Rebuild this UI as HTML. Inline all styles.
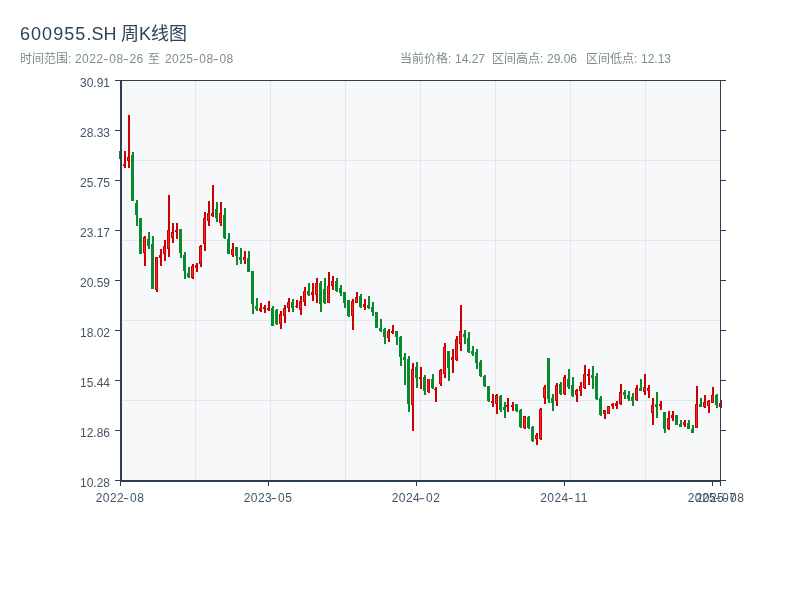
<!DOCTYPE html>
<html lang="zh-CN">
<head>
<meta charset="utf-8">
<title>600955.SH 周K线图</title>
<style>
html,body{margin:0;padding:0;background:#fff;}
body{-webkit-font-smoothing:antialiased;width:800px;height:600px;position:relative;overflow:hidden;font-family:"Liberation Sans","Noto Sans CJK SC",sans-serif;}
.t{position:absolute;white-space:nowrap;line-height:1;will-change:transform;}
.title{font-size:18px;color:#2f4256;}
.sub{font-size:12px;color:#7f8c8d;}
.num{letter-spacing:0.45px;}
.hy{display:inline-block;margin:0 1.2px 0 0.2px;transform:scaleX(1.4);}
.yl{will-change:transform;position:absolute;right:690px;font-size:12px;line-height:12px;color:#435466;white-space:nowrap;}
.xl{will-change:transform;position:absolute;top:492px;width:100px;text-align:center;font-size:12px;line-height:12px;color:#435466;letter-spacing:0.45px;white-space:nowrap;}
svg{position:absolute;left:0;top:0;}
</style>
</head>
<body>
<svg width="800" height="600" viewBox="0 0 800 600" shape-rendering="crispEdges">
<rect x="122" y="81" width="598" height="399" fill="#f7f8fa"/>
<path d="M195.5 81V480 M270.5 81V480 M345.5 81V480 M420.5 81V480 M495.5 81V480 M570.5 81V480 M645.5 81V480 M122 160.5H720 M122 240.5H720 M122 320.5H720 M122 400.5H720" stroke="#e3e7ec" stroke-width="1" fill="none"/>
<g fill="#0a8a2e"><rect x="120" y="151.00" width="2" height="8.00"/><rect x="132" y="152.00" width="2" height="48.60"/><rect x="136" y="200.00" width="2" height="25.60"/><rect x="140" y="218.00" width="2" height="35.75"/><rect x="148" y="232.00" width="2" height="16.75"/><rect x="152" y="235.60" width="2" height="53.80"/><rect x="180" y="229.40" width="2" height="28.10"/><rect x="184" y="251.90" width="2" height="26.85"/><rect x="188" y="266.90" width="2" height="10.60"/><rect x="216" y="201.90" width="2" height="20.00"/><rect x="224" y="208.00" width="2" height="30.75"/><rect x="228" y="233.00" width="2" height="21.40"/><rect x="236" y="246.90" width="2" height="18.10"/><rect x="240" y="248.00" width="2" height="15.75"/><rect x="248" y="250.60" width="2" height="21.30"/><rect x="252" y="271.25" width="2" height="42.50"/><rect x="256" y="298.10" width="2" height="12.50"/><rect x="272" y="306.25" width="2" height="19.35"/><rect x="276" y="309.00" width="2" height="15.75"/><rect x="292" y="299.00" width="2" height="12.60"/><rect x="308" y="283.25" width="2" height="12.25"/><rect x="320" y="281.00" width="2" height="30.75"/><rect x="324" y="278.00" width="2" height="25.90"/><rect x="336" y="278.00" width="2" height="13.75"/><rect x="340" y="285.10" width="2" height="10.65"/><rect x="344" y="292.00" width="2" height="15.60"/><rect x="348" y="300.10" width="2" height="16.65"/><rect x="360" y="294.25" width="2" height="13.35"/><rect x="368" y="296.00" width="2" height="12.50"/><rect x="372" y="302.00" width="2" height="13.50"/><rect x="376" y="312.00" width="2" height="15.60"/><rect x="380" y="319.00" width="2" height="12.60"/><rect x="384" y="328.10" width="2" height="15.65"/><rect x="396" y="331.00" width="2" height="13.75"/><rect x="400" y="336.00" width="2" height="29.60"/><rect x="404" y="353.00" width="2" height="31.60"/><rect x="408" y="356.00" width="2" height="55.90"/><rect x="416" y="361.90" width="2" height="25.60"/><rect x="424" y="375.00" width="2" height="20.00"/><rect x="432" y="374.00" width="2" height="14.75"/><rect x="448" y="351.00" width="2" height="29.60"/><rect x="464" y="330.00" width="2" height="13.75"/><rect x="468" y="332.10" width="2" height="20.40"/><rect x="472" y="346.25" width="2" height="9.35"/><rect x="476" y="349.00" width="2" height="19.50"/><rect x="480" y="360.00" width="2" height="16.90"/><rect x="484" y="375.00" width="2" height="11.90"/><rect x="488" y="386.00" width="2" height="15.90"/><rect x="500" y="395.00" width="2" height="16.90"/><rect x="504" y="402.00" width="2" height="15.75"/><rect x="516" y="404.00" width="2" height="7.90"/><rect x="520" y="409.00" width="2" height="18.70"/><rect x="528" y="416.25" width="2" height="12.55"/><rect x="532" y="426.20" width="2" height="15.60"/><rect x="548" y="358.10" width="2" height="44.40"/><rect x="552" y="394.00" width="2" height="16.60"/><rect x="560" y="381.90" width="2" height="12.85"/><rect x="568" y="369.00" width="2" height="19.75"/><rect x="572" y="376.90" width="2" height="20.00"/><rect x="592" y="366.00" width="2" height="22.75"/><rect x="596" y="373.10" width="2" height="26.65"/><rect x="600" y="396.00" width="2" height="19.60"/><rect x="624" y="390.25" width="2" height="8.25"/><rect x="628" y="391.25" width="2" height="9.35"/><rect x="632" y="393.10" width="2" height="12.50"/><rect x="640" y="379.00" width="2" height="11.60"/><rect x="656" y="391.90" width="2" height="25.85"/><rect x="664" y="412.25" width="2" height="20.50"/><rect x="676" y="415.00" width="2" height="9.75"/><rect x="680" y="420.00" width="2" height="6.50"/><rect x="688" y="420.00" width="2" height="8.75"/><rect x="692" y="425.00" width="2" height="7.75"/><rect x="700" y="398.10" width="2" height="8.40"/><rect x="716" y="394.00" width="2" height="13.50"/><rect x="119" y="151.00" width="3" height="7.75"/><rect x="131" y="155.00" width="3" height="45.50"/><rect x="135" y="203.00" width="3" height="11.50"/><rect x="139" y="218.00" width="3" height="35.50"/><rect x="147" y="239.00" width="3" height="7.00"/><rect x="151" y="244.40" width="3" height="44.35"/><rect x="179" y="229.40" width="3" height="23.10"/><rect x="183" y="255.00" width="3" height="16.25"/><rect x="187" y="273.00" width="3" height="4.00"/><rect x="215" y="209.40" width="3" height="8.10"/><rect x="223" y="215.00" width="3" height="22.50"/><rect x="227" y="238.75" width="3" height="15.00"/><rect x="235" y="246.90" width="3" height="8.70"/><rect x="239" y="257.00" width="3" height="3.00"/><rect x="247" y="257.50" width="3" height="14.40"/><rect x="251" y="271.25" width="3" height="33.15"/><rect x="255" y="305.60" width="3" height="3.80"/><rect x="271" y="308.00" width="3" height="17.60"/><rect x="275" y="310.00" width="3" height="14.40"/><rect x="291" y="302.00" width="3" height="6.25"/><rect x="307" y="290.75" width="3" height="4.00"/><rect x="319" y="283.25" width="3" height="20.65"/><rect x="323" y="288.90" width="3" height="14.35"/><rect x="335" y="280.75" width="3" height="10.65"/><rect x="339" y="288.25" width="3" height="4.35"/><rect x="343" y="292.00" width="3" height="10.60"/><rect x="347" y="300.10" width="3" height="15.65"/><rect x="359" y="295.75" width="3" height="11.00"/><rect x="367" y="304.50" width="3" height="3.10"/><rect x="371" y="307.00" width="3" height="5.00"/><rect x="375" y="312.00" width="3" height="15.50"/><rect x="379" y="328.25" width="3" height="2.75"/><rect x="383" y="328.75" width="3" height="8.15"/><rect x="395" y="331.25" width="3" height="5.65"/><rect x="399" y="336.90" width="3" height="20.00"/><rect x="403" y="357.00" width="3" height="2.60"/><rect x="407" y="359.40" width="3" height="44.35"/><rect x="415" y="366.90" width="3" height="10.60"/><rect x="423" y="376.90" width="3" height="13.70"/><rect x="431" y="379.40" width="3" height="8.70"/><rect x="447" y="351.00" width="3" height="16.50"/><rect x="463" y="334.40" width="3" height="2.50"/><rect x="467" y="338.10" width="3" height="13.80"/><rect x="471" y="350.60" width="3" height="2.90"/><rect x="475" y="351.90" width="3" height="10.60"/><rect x="479" y="361.90" width="3" height="14.35"/><rect x="483" y="375.60" width="3" height="10.65"/><rect x="487" y="386.00" width="3" height="15.25"/><rect x="499" y="395.60" width="3" height="14.40"/><rect x="503" y="407.00" width="3" height="2.50"/><rect x="515" y="404.40" width="3" height="6.85"/><rect x="519" y="409.50" width="3" height="17.50"/><rect x="527" y="416.50" width="3" height="11.60"/><rect x="531" y="427.00" width="3" height="14.00"/><rect x="547" y="358.10" width="3" height="40.65"/><rect x="551" y="397.50" width="3" height="5.50"/><rect x="559" y="383.75" width="3" height="10.65"/><rect x="567" y="379.40" width="3" height="7.50"/><rect x="571" y="385.00" width="3" height="11.25"/><rect x="591" y="375.00" width="3" height="2.50"/><rect x="595" y="376.25" width="3" height="23.15"/><rect x="599" y="397.50" width="3" height="17.50"/><rect x="623" y="391.90" width="3" height="3.10"/><rect x="627" y="395.00" width="3" height="4.40"/><rect x="631" y="396.90" width="3" height="4.35"/><rect x="639" y="388.10" width="3" height="2.50"/><rect x="655" y="404.40" width="3" height="2.50"/><rect x="663" y="412.25" width="3" height="17.15"/><rect x="675" y="415.00" width="3" height="9.75"/><rect x="679" y="423.75" width="3" height="2.75"/><rect x="687" y="423.00" width="3" height="5.75"/><rect x="691" y="428.75" width="3" height="3.75"/><rect x="699" y="404.00" width="3" height="2.50"/><rect x="715" y="395.00" width="3" height="9.50"/></g>
<g fill="#cc0000"><rect x="124" y="151.25" width="2" height="16.25"/><rect x="128" y="115.00" width="2" height="52.50"/><rect x="144" y="236.25" width="2" height="29.35"/><rect x="156" y="256.90" width="2" height="35.00"/><rect x="160" y="248.75" width="2" height="16.85"/><rect x="164" y="240.00" width="2" height="20.60"/><rect x="168" y="195.00" width="2" height="61.90"/><rect x="172" y="223.00" width="2" height="19.50"/><rect x="176" y="223.00" width="2" height="15.75"/><rect x="192" y="264.40" width="2" height="14.35"/><rect x="196" y="263.00" width="2" height="8.50"/><rect x="200" y="245.00" width="2" height="21.90"/><rect x="204" y="211.90" width="2" height="38.70"/><rect x="208" y="201.25" width="2" height="24.35"/><rect x="212" y="185.00" width="2" height="31.90"/><rect x="220" y="201.90" width="2" height="23.70"/><rect x="232" y="243.10" width="2" height="13.80"/><rect x="244" y="250.60" width="2" height="13.15"/><rect x="260" y="303.10" width="2" height="8.80"/><rect x="264" y="305.00" width="2" height="8.10"/><rect x="268" y="301.25" width="2" height="9.35"/><rect x="280" y="311.00" width="2" height="17.75"/><rect x="284" y="305.00" width="2" height="17.75"/><rect x="288" y="298.10" width="2" height="13.80"/><rect x="296" y="300.10" width="2" height="7.50"/><rect x="300" y="296.00" width="2" height="18.50"/><rect x="304" y="287.00" width="2" height="18.75"/><rect x="312" y="283.25" width="2" height="17.50"/><rect x="316" y="278.00" width="2" height="24.60"/><rect x="328" y="272.00" width="2" height="31.00"/><rect x="332" y="276.00" width="2" height="13.75"/><rect x="352" y="299.25" width="2" height="30.50"/><rect x="356" y="292.00" width="2" height="11.25"/><rect x="364" y="299.25" width="2" height="10.25"/><rect x="388" y="329.00" width="2" height="12.90"/><rect x="392" y="325.00" width="2" height="8.75"/><rect x="412" y="363.10" width="2" height="67.50"/><rect x="420" y="366.90" width="2" height="21.85"/><rect x="428" y="379.00" width="2" height="13.75"/><rect x="435" y="386.90" width="2" height="15.00"/><rect x="440" y="369.40" width="2" height="16.20"/><rect x="444" y="343.10" width="2" height="34.40"/><rect x="452" y="349.00" width="2" height="23.50"/><rect x="456" y="336.00" width="2" height="24.60"/><rect x="460" y="305.00" width="2" height="45.60"/><rect x="492" y="394.00" width="2" height="12.90"/><rect x="496" y="394.00" width="2" height="19.75"/><rect x="507" y="398.00" width="2" height="13.90"/><rect x="512" y="402.25" width="2" height="8.45"/><rect x="524" y="416.25" width="2" height="12.55"/><rect x="536" y="433.00" width="2" height="11.80"/><rect x="540" y="408.00" width="2" height="31.80"/><rect x="544" y="385.00" width="2" height="18.75"/><rect x="556" y="383.10" width="2" height="22.50"/><rect x="564" y="375.00" width="2" height="19.75"/><rect x="576" y="388.75" width="2" height="13.15"/><rect x="580" y="381.90" width="2" height="13.70"/><rect x="584" y="365.00" width="2" height="23.75"/><rect x="588" y="369.00" width="2" height="15.75"/><rect x="604" y="410.00" width="2" height="8.75"/><rect x="608" y="406.00" width="2" height="7.75"/><rect x="612" y="403.10" width="2" height="5.65"/><rect x="616" y="401.25" width="2" height="7.50"/><rect x="620" y="384.00" width="2" height="20.75"/><rect x="636" y="385.00" width="2" height="15.60"/><rect x="644" y="374.00" width="2" height="20.75"/><rect x="648" y="385.00" width="2" height="12.75"/><rect x="652" y="398.10" width="2" height="26.65"/><rect x="660" y="401.00" width="2" height="8.75"/><rect x="668" y="411.25" width="2" height="18.50"/><rect x="672" y="411.25" width="2" height="9.35"/><rect x="684" y="420.00" width="2" height="6.50"/><rect x="696" y="386.25" width="2" height="41.25"/><rect x="704" y="395.00" width="2" height="12.50"/><rect x="708" y="400.00" width="2" height="12.50"/><rect x="712" y="387.25" width="2" height="15.00"/><rect x="720" y="400.00" width="2" height="7.50"/><rect x="123" y="164.00" width="3" height="2.00"/><rect x="127" y="157.00" width="3" height="3.50"/><rect x="143" y="237.00" width="3" height="15.50"/><rect x="155" y="257.00" width="3" height="33.00"/><rect x="159" y="255.00" width="3" height="2.50"/><rect x="163" y="246.25" width="3" height="8.15"/><rect x="167" y="229.90" width="3" height="18.70"/><rect x="171" y="232.00" width="3" height="5.50"/><rect x="175" y="230.00" width="3" height="2.00"/><rect x="191" y="265.60" width="3" height="12.40"/><rect x="195" y="265.00" width="3" height="2.50"/><rect x="199" y="245.60" width="3" height="17.90"/><rect x="203" y="218.00" width="3" height="25.50"/><rect x="207" y="213.00" width="3" height="7.60"/><rect x="211" y="213.00" width="3" height="3.25"/><rect x="219" y="213.00" width="3" height="9.50"/><rect x="231" y="248.75" width="3" height="6.25"/><rect x="243" y="256.90" width="3" height="3.10"/><rect x="259" y="308.00" width="3" height="2.60"/><rect x="263" y="306.90" width="3" height="2.50"/><rect x="267" y="308.00" width="3" height="2.00"/><rect x="279" y="313.75" width="3" height="10.00"/><rect x="283" y="308.00" width="3" height="7.60"/><rect x="287" y="302.00" width="3" height="6.25"/><rect x="295" y="305.75" width="3" height="1.25"/><rect x="299" y="301.40" width="3" height="8.60"/><rect x="303" y="290.75" width="3" height="11.25"/><rect x="311" y="292.00" width="3" height="2.50"/><rect x="315" y="283.25" width="3" height="11.75"/><rect x="327" y="286.40" width="3" height="16.20"/><rect x="331" y="280.75" width="3" height="5.65"/><rect x="351" y="300.75" width="3" height="15.00"/><rect x="355" y="297.00" width="3" height="5.60"/><rect x="363" y="304.25" width="3" height="2.75"/><rect x="387" y="331.25" width="3" height="6.85"/><rect x="391" y="331.25" width="3" height="1.85"/><rect x="411" y="369.40" width="3" height="35.80"/><rect x="419" y="376.90" width="3" height="1.85"/><rect x="427" y="379.40" width="3" height="12.50"/><rect x="434" y="388.75" width="3" height="1.25"/><rect x="439" y="370.00" width="3" height="13.75"/><rect x="443" y="346.90" width="3" height="26.85"/><rect x="451" y="356.90" width="3" height="3.10"/><rect x="455" y="339.40" width="3" height="20.60"/><rect x="459" y="331.25" width="3" height="12.75"/><rect x="491" y="400.60" width="3" height="2.50"/><rect x="495" y="395.00" width="3" height="8.75"/><rect x="506" y="405.00" width="3" height="2.00"/><rect x="511" y="405.00" width="3" height="1.50"/><rect x="523" y="416.25" width="3" height="11.85"/><rect x="535" y="435.00" width="3" height="3.50"/><rect x="539" y="408.50" width="3" height="30.50"/><rect x="543" y="386.90" width="3" height="10.85"/><rect x="555" y="385.00" width="3" height="15.60"/><rect x="563" y="376.90" width="3" height="16.85"/><rect x="575" y="390.00" width="3" height="5.00"/><rect x="579" y="385.60" width="3" height="5.65"/><rect x="583" y="373.75" width="3" height="14.35"/><rect x="587" y="373.75" width="3" height="1.85"/><rect x="603" y="410.30" width="3" height="3.45"/><rect x="607" y="406.30" width="3" height="7.30"/><rect x="611" y="404.40" width="3" height="1.85"/><rect x="615" y="403.10" width="3" height="2.50"/><rect x="619" y="391.90" width="3" height="11.85"/><rect x="635" y="388.10" width="3" height="11.90"/><rect x="643" y="387.25" width="3" height="4.65"/><rect x="647" y="387.50" width="3" height="3.75"/><rect x="651" y="405.00" width="3" height="7.50"/><rect x="659" y="404.40" width="3" height="1.20"/><rect x="667" y="418.00" width="3" height="11.40"/><rect x="671" y="415.00" width="3" height="2.50"/><rect x="683" y="421.90" width="3" height="3.10"/><rect x="695" y="404.40" width="3" height="23.10"/><rect x="703" y="402.00" width="3" height="5.00"/><rect x="707" y="401.25" width="3" height="4.35"/><rect x="711" y="395.00" width="3" height="7.50"/><rect x="719" y="402.50" width="3" height="4.40"/></g>
<g fill="#f02828"><rect x="128" y="158.00" width="1" height="1.50"/><rect x="144" y="238.00" width="1" height="13.50"/><rect x="156" y="258.00" width="1" height="31.00"/><rect x="164" y="247.25" width="1" height="6.15"/><rect x="168" y="230.90" width="1" height="16.70"/><rect x="172" y="233.00" width="1" height="3.50"/><rect x="192" y="266.60" width="1" height="10.40"/><rect x="200" y="246.60" width="1" height="15.90"/><rect x="204" y="219.00" width="1" height="23.50"/><rect x="208" y="214.00" width="1" height="5.60"/><rect x="212" y="214.00" width="1" height="1.25"/><rect x="220" y="214.00" width="1" height="7.50"/><rect x="232" y="249.75" width="1" height="4.25"/><rect x="244" y="257.90" width="1" height="1.10"/><rect x="280" y="314.75" width="1" height="8.00"/><rect x="284" y="309.00" width="1" height="5.60"/><rect x="288" y="303.00" width="1" height="4.25"/><rect x="300" y="302.40" width="1" height="6.60"/><rect x="304" y="291.75" width="1" height="9.25"/><rect x="316" y="284.25" width="1" height="9.75"/><rect x="328" y="287.40" width="1" height="14.20"/><rect x="332" y="281.75" width="1" height="3.65"/><rect x="352" y="301.75" width="1" height="13.00"/><rect x="356" y="298.00" width="1" height="3.60"/><rect x="388" y="332.25" width="1" height="4.85"/><rect x="412" y="370.40" width="1" height="33.80"/><rect x="428" y="380.40" width="1" height="10.50"/><rect x="440" y="371.00" width="1" height="11.75"/><rect x="444" y="347.90" width="1" height="24.85"/><rect x="452" y="357.90" width="1" height="1.10"/><rect x="456" y="340.40" width="1" height="18.60"/><rect x="460" y="332.25" width="1" height="10.75"/><rect x="496" y="396.00" width="1" height="6.75"/><rect x="524" y="417.25" width="1" height="9.85"/><rect x="536" y="436.00" width="1" height="1.50"/><rect x="540" y="409.50" width="1" height="28.50"/><rect x="544" y="387.90" width="1" height="8.85"/><rect x="556" y="386.00" width="1" height="13.60"/><rect x="564" y="377.90" width="1" height="14.85"/><rect x="576" y="391.00" width="1" height="3.00"/><rect x="580" y="386.60" width="1" height="3.65"/><rect x="584" y="374.75" width="1" height="12.35"/><rect x="604" y="411.30" width="1" height="1.45"/><rect x="608" y="407.30" width="1" height="5.30"/><rect x="620" y="392.90" width="1" height="9.85"/><rect x="636" y="389.10" width="1" height="9.90"/><rect x="644" y="388.25" width="1" height="2.65"/><rect x="648" y="388.50" width="1" height="1.75"/><rect x="652" y="406.00" width="1" height="5.50"/><rect x="668" y="419.00" width="1" height="9.40"/><rect x="684" y="422.90" width="1" height="1.10"/><rect x="696" y="405.40" width="1" height="21.10"/><rect x="704" y="403.00" width="1" height="3.00"/><rect x="708" y="402.25" width="1" height="2.35"/><rect x="712" y="396.00" width="1" height="5.50"/><rect x="720" y="403.50" width="1" height="2.40"/></g>
<g fill="#2c3e50"><rect x="115" y="80" width="611" height="1"/><rect x="120" y="80" width="2" height="402"/><rect x="120" y="480" width="601" height="2"/><rect x="720" y="80" width="1" height="406"/><rect x="115" y="80" width="5" height="1"/><rect x="721" y="80" width="5" height="1"/><rect x="115" y="130" width="5" height="1"/><rect x="721" y="130" width="5" height="1"/><rect x="115" y="180" width="5" height="1"/><rect x="721" y="180" width="5" height="1"/><rect x="115" y="230" width="5" height="1"/><rect x="721" y="230" width="5" height="1"/><rect x="115" y="280" width="5" height="1"/><rect x="721" y="280" width="5" height="1"/><rect x="115" y="330" width="5" height="1"/><rect x="721" y="330" width="5" height="1"/><rect x="115" y="380" width="5" height="1"/><rect x="721" y="380" width="5" height="1"/><rect x="115" y="430" width="5" height="1"/><rect x="721" y="430" width="5" height="1"/><rect x="115" y="480" width="5" height="1"/><rect x="721" y="480" width="5" height="1"/><rect x="120" y="482" width="1" height="4"/><rect x="268" y="482" width="1" height="4"/><rect x="416" y="482" width="1" height="4"/><rect x="564" y="482" width="1" height="4"/><rect x="712" y="482" width="1" height="4"/><rect x="720" y="482" width="1" height="4"/></g>
</svg>
<div class="t title" style="left:20px;top:25px"><span style="letter-spacing:1.05px">600955</span>.SH</div>
<div class="t title" style="left:121px;top:25px">周K线图</div>
<div class="t sub" style="left:20px;top:53px">时间范围:</div>
<div class="t sub num" style="left:75px;top:53px">2022<span class="hy">-</span>08<span class="hy">-</span>26</div>
<div class="t sub" style="left:148px;top:53px">至</div>
<div class="t sub num" style="left:165px;top:53px">2025<span class="hy">-</span>08<span class="hy">-</span>08</div>
<div class="t sub" style="left:400px;top:53px">当前价格:</div>
<div class="t sub" style="left:455px;top:53px">14.27</div>
<div class="t sub" style="left:492px;top:53px">区间高点:</div>
<div class="t sub" style="left:547px;top:53px">29.06</div>
<div class="t sub" style="left:586px;top:53px">区间低点:</div>
<div class="t sub" style="left:641px;top:53px">12.13</div>
<div class="yl" style="top:77px">30.91</div>
<div class="yl" style="top:127px">28.33</div>
<div class="yl" style="top:177px">25.75</div>
<div class="yl" style="top:227px">23.17</div>
<div class="yl" style="top:277px">20.59</div>
<div class="yl" style="top:327px">18.02</div>
<div class="yl" style="top:377px">15.44</div>
<div class="yl" style="top:427px">12.86</div>
<div class="yl" style="top:477px">10.28</div>
<div class="xl" style="left:70px">2022<span class="hy">-</span>08</div>
<div class="xl" style="left:218px">2023<span class="hy">-</span>05</div>
<div class="xl" style="left:366px">2024<span class="hy">-</span>02</div>
<div class="xl" style="left:514px">2024<span class="hy">-</span>11</div>
<div class="xl" style="left:662px">2025<span class="hy">-</span>07</div>
<div class="xl" style="left:670px">2025<span class="hy">-</span>08</div>
</body>
</html>
